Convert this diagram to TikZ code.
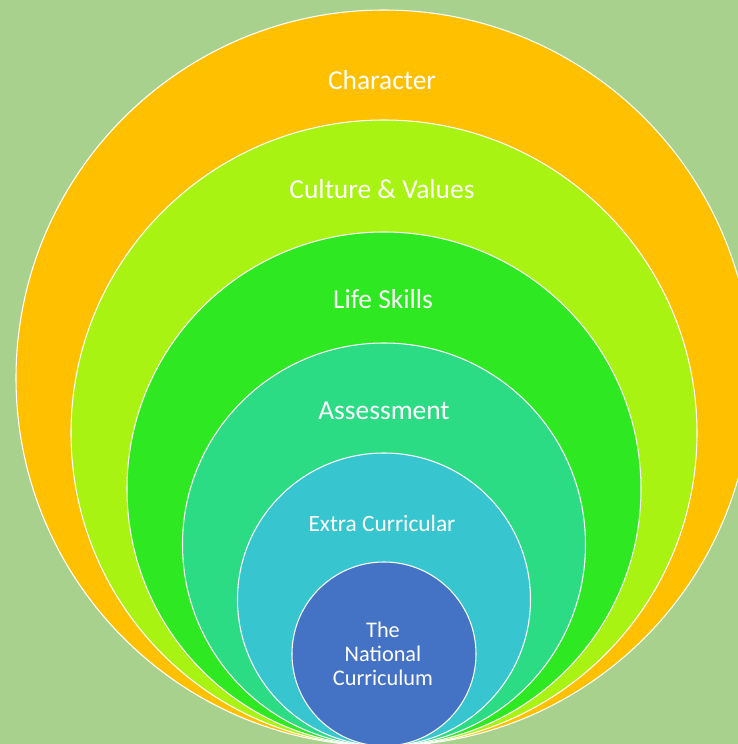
\documentclass[tikz,border=0pt]{standalone}
\usepackage{fontspec}
\setmainfont{Carlito}
\usepackage{tikz}
\usetikzlibrary{shapes,positioning}
\definecolor{bggreen}{HTML}{A9D18E}
\definecolor{ringorange}{HTML}{FFC000}
\definecolor{ringlime}{HTML}{A9F312}
\definecolor{ringgreen}{HTML}{2EE822}
\definecolor{ringsea}{HTML}{2BDC84}
\definecolor{ringcyan}{HTML}{37C6CF}
\definecolor{ringblue}{HTML}{4472C4}
\tikzstyle{ring} = [circle, draw=white, line width=0.6pt, inner sep=0pt]
\tikzstyle{biglabel} = [text=white, font=\fontsize{15.6}{18}\selectfont]
\tikzstyle{smalllabel} = [text=white, font=\fontsize{13.3}{15}\selectfont]
\tikzstyle{corelabel} = [text=white, align=center, font=\fontsize{12.7}{13.7}\selectfont]

\begin{document}
\begin{tikzpicture}
				\fill [bggreen] (0,0) rectangle (14.76,14.88);
				\useasboundingbox (0,0) rectangle (14.76,14.88);

				\node [ring, fill=ringorange, minimum size=14.72cm] (character) at (7.68, 7.32) {};
				\node [ring, fill=ringlime, minimum size=12.52cm] (culture) at (7.68, 6.22) {};
				\node [ring, fill=ringgreen, minimum size=10.28cm] (life) at (7.68, 5.10) {};
				\node [ring, fill=ringsea, minimum size=8.06cm] (assess) at (7.68, 3.99) {};
				\node [ring, fill=ringcyan, minimum size=5.86cm] (extra) at (7.68, 2.89) {};
				\node [ring, fill=ringblue, minimum size=3.68cm] (core) at (7.68, 1.80) {};

				\node [biglabel] (t1) at (7.64, 13.28) {Character};
				\node [biglabel] (t2) at (7.64, 11.10) {Culture \& Values};
				\node [biglabel] (t3) at (7.66, 8.90) {Life Skills};
				\node [biglabel] (t4) at (7.68, 6.66) {Assessment};
				\node [smalllabel] (t5) at (7.64, 4.42) {Extra Curricular};
				\node [corelabel] (t6) at (7.66, 1.80) {The\\National\\Curriculum};
			\end{tikzpicture}
\end{document}
